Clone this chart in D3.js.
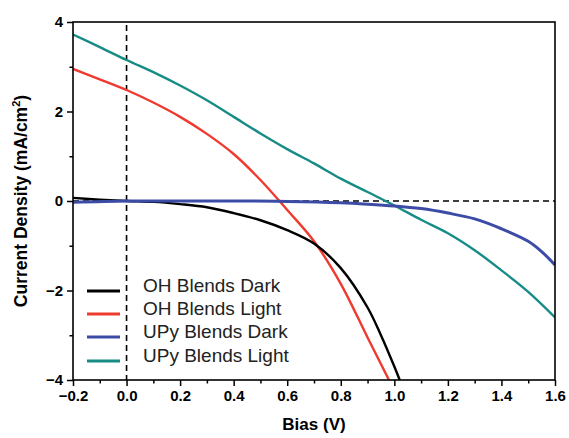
<!DOCTYPE html>
<html>
<head>
<meta charset="utf-8">
<script src="https://cdn.jsdelivr.net/npm/d3@7"></script>
<style>
  html, body { margin: 0; padding: 0; background: #fff; }
  svg { display: block; }
</style>
</head>
<body>
<svg id="chart" width="569" height="438"></svg>
<script>
// ---- data ----
const seriesNames = ["OH Blends Dark", "OH Blends Light", "UPy Blends Dark", "UPy Blends Light"];
const seriesColors = ["#000000", "#ee3a2f", "#3c4ba6", "#178c86"];

const ohDarkV = [-0.2, -0.1, 0.0, 0.1, 0.2, 0.3, 0.4, 0.5, 0.6, 0.7, 0.8, 0.9, 0.95, 1.0, 1.02];
const ohDarkJ = [0.07, 0.03, 0.0, -0.02, -0.07, -0.14, -0.27, -0.43, -0.65, -0.95, -1.5, -2.38, -3.0, -3.7, -4.0];

const ohLightV = [-0.2, -0.1, 0.0, 0.1, 0.2, 0.3, 0.4, 0.5, 0.6, 0.7, 0.8, 0.9, 0.98];
const ohLightJ = [2.95, 2.72, 2.48, 2.2, 1.88, 1.5, 1.05, 0.47, -0.2, -0.9, -1.85, -3.05, -4.0];

const upyDarkV = [-0.2, 0.0, 0.2, 0.4, 0.6, 0.8, 0.9, 1.0, 1.1, 1.2, 1.3, 1.4, 1.5, 1.55, 1.6];
const upyDarkJ = [-0.03, 0.0, 0.0, 0.0, -0.01, -0.04, -0.07, -0.11, -0.17, -0.27, -0.4, -0.62, -0.9, -1.13, -1.43];

const upyLightV = [-0.2, -0.1, 0.0, 0.1, 0.2, 0.3, 0.4, 0.5, 0.6, 0.7, 0.8, 0.9, 1.0, 1.1, 1.2, 1.3, 1.4, 1.5, 1.6];
const upyLightJ = [3.72, 3.44, 3.15, 2.88, 2.58, 2.25, 1.88, 1.51, 1.16, 0.84, 0.5, 0.2, -0.1, -0.42, -0.72, -1.1, -1.55, -2.03, -2.6];

const xTicks = [-0.2, 0.0, 0.2, 0.4, 0.6, 0.8, 1.0, 1.2, 1.4, 1.6];
const yTicks = [-4, -2, 0, 2, 4];
const xTitle = "Bias (V)";
const yTitle = "Current Density (mA/cm";

// ---- layout ----
const svg = d3.select("#chart");
const L = 73, R = 555, T = 22, B = 380;

const x = d3.scaleLinear().domain([-0.2, 1.6]).range([L, R]);
const y = d3.scaleLinear().domain([-4, 4]).range([B, T]);

svg.append("defs").append("clipPath").attr("id", "clip")
  .append("rect").attr("x", L).attr("y", T).attr("width", R - L).attr("height", B - T);

const fontFam = "'Liberation Sans', Arial, Helvetica, sans-serif";

// reference dashed lines
svg.append("line")
  .attr("x1", x(0)).attr("x2", x(0)).attr("y1", T + 3).attr("y2", B)
  .attr("stroke", "#000").attr("stroke-width", 1.6).attr("stroke-dasharray", "6,4");
svg.append("line")
  .attr("x1", L).attr("x2", R).attr("y1", y(0)).attr("y2", y(0))
  .attr("stroke", "#000").attr("stroke-width", 1.6).attr("stroke-dasharray", "6,4");

// curves
const all = [
  [ohDarkV, ohDarkJ],
  [ohLightV, ohLightJ],
  [upyDarkV, upyDarkJ],
  [upyLightV, upyLightJ]
];
const line = d3.line().x(d => x(d[0])).y(d => y(d[1])).curve(d3.curveCatmullRom.alpha(0.5));
const g = svg.append("g").attr("clip-path", "url(#clip)");
const order = [3, 1, 0, 2];
order.forEach(i => {
  const pts = all[i][0].map((v, k) => [v, all[i][1][k]]);
  g.append("path").datum(pts)
    .attr("d", line)
    .attr("fill", "none")
    .attr("stroke", seriesColors[i])
    .attr("stroke-width", i === 2 ? 3 : 2.4)
    .attr("stroke-linejoin", "round");
});

// axes
const xAxis = d3.axisBottom(x).tickValues(xTicks).tickFormat(d3.format(".1f")).tickSize(6).tickPadding(4);
const xMinor = d3.axisBottom(x).tickValues(d3.range(-0.1, 1.6, 0.2)).tickFormat("").tickSize(3.5);
const yAxis = d3.axisLeft(y).tickValues(yTicks).tickFormat(d3.format("d")).tickSize(6).tickPadding(4);
const yMinor = d3.axisLeft(y).tickValues([-3, -1, 1, 3]).tickFormat("").tickSize(3.5);

function styleAxis(sel) {
  sel.select(".domain").remove();
  sel.selectAll(".tick line").attr("stroke", "#000").attr("stroke-width", 1.5);
  sel.selectAll(".tick text")
    .attr("fill", "#000")
    .style("font-family", fontFam)
    .style("font-weight", "bold")
    .style("font-size", "15px");
}
svg.append("g").attr("transform", `translate(0,${B})`).call(xAxis).call(styleAxis);
svg.append("g").attr("transform", `translate(0,${B})`).call(xMinor).call(styleAxis);
svg.append("g").attr("transform", `translate(${L},0)`).call(yAxis).call(styleAxis);
svg.append("g").attr("transform", `translate(${L},0)`).call(yMinor).call(styleAxis);

// frame
svg.append("rect")
  .attr("x", L).attr("y", T).attr("width", R - L).attr("height", B - T)
  .attr("fill", "none").attr("stroke", "#000").attr("stroke-width", 1.6);

// axis titles
svg.append("text")
  .attr("x", (L + R) / 2).attr("y", 430)
  .attr("text-anchor", "middle")
  .style("font-family", fontFam).style("font-weight", "bold").style("font-size", "17px")
  .text(xTitle);

const yt = svg.append("text")
  .attr("transform", `translate(27,${(T + B) / 2}) rotate(-90)`)
  .attr("text-anchor", "middle")
  .style("font-family", fontFam).style("font-weight", "bold").style("font-size", "17.5px");
yt.append("tspan").text(yTitle);
yt.append("tspan").attr("dy", -7).style("font-size", "11px").text("2");
yt.append("tspan").attr("dy", 7).text(")");

// legend
const legY = [291, 314, 337, 361];
seriesNames.forEach((name, i) => {
  svg.append("line")
    .attr("x1", 87).attr("x2", 120).attr("y1", legY[i]).attr("y2", legY[i])
    .attr("stroke", seriesColors[i]).attr("stroke-width", 3);
  svg.append("text")
    .attr("x", 143).attr("y", legY[i] + 1)
    .style("font-family", fontFam).style("font-size", "19px")
    .attr("fill", "#222")
    .text(name);
});
</script>
</body>
</html>
